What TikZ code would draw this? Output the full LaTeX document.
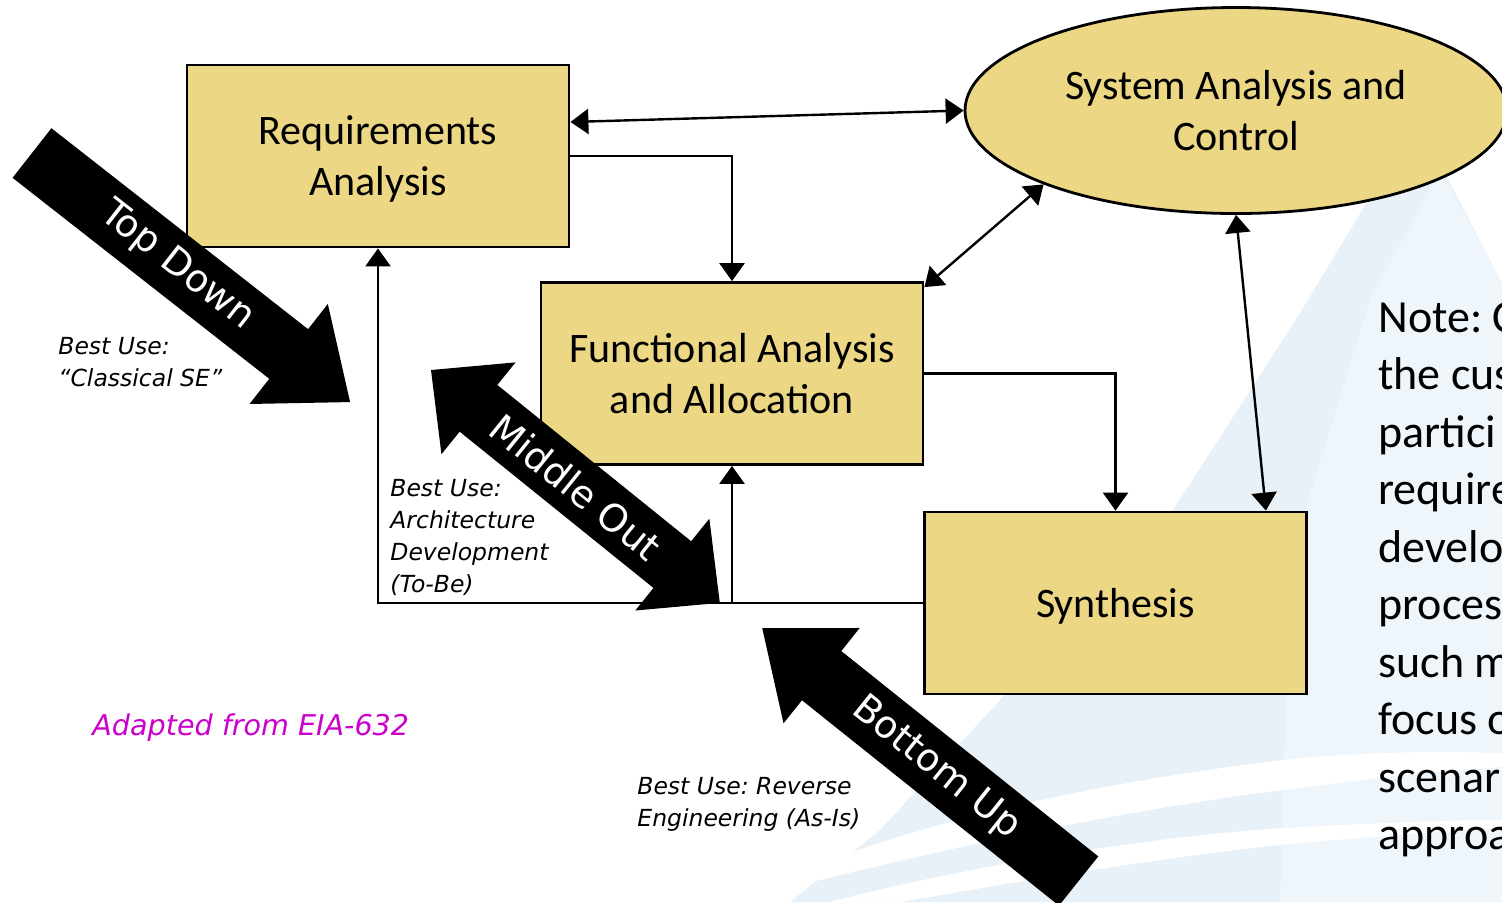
\documentclass[tikz,border=0pt]{standalone}
\usepackage{fontspec}
\setmainfont{Carlito}
\newfontfamily\verd{DejaVu Sans}
\usetikzlibrary{shapes.geometric,arrows.meta,calc}
\definecolor{boxfill}{RGB}{235,215,132}
\definecolor{wm}{RGB}{233,241,248}
\definecolor{wmlight}{RGB}{238,245,251}
\definecolor{mag}{RGB}{204,0,204}
\frenchspacing
\begin{document}
\begin{tikzpicture}[x=0.5pt,y=-0.5pt,
  box/.style={draw=black, line width=1.4pt, fill=boxfill, minimum width=191pt, minimum height=91pt, inner sep=0pt, align=center, text depth=0pt, font=\fontsize{21}{25.5}\selectfont},
  tip/.tip={Triangle[length=9pt,width=12.5pt]},
  conn/.style={line width=1.2pt, -tip},
  bconn/.style={line width=1.2pt, tip-tip},
  lbl/.style={anchor=north west, inner sep=0pt, align=left, font=\verd\itshape\fontsize{11.75}{16}\selectfont},
  fattext/.style={text=white, font=\verd\fontsize{19}{19}\selectfont, inner sep=0pt},
  note/.style={anchor=north west, inner sep=0pt, align=left, font=\fontsize{23}{28.75}\selectfont}
]
\useasboundingbox (0,0) rectangle (1502,902);
\clip (0,0) rectangle (1502,902);
% watermark
\fill[wm] (1417,119) -- (1300,313) -- (1173,510) -- (1000,700) -- (880,830) -- (790,902) -- (1502,902) -- (1502,283) -- cycle;
\fill[wmlight] (1440,170) -- (1370,300) -- (1290,560) -- (1280,902) -- (1502,902) -- (1502,283) -- cycle;
\fill[white] (800,872) .. controls (950,810) and (1150,775) .. (1300,758) .. controls (1400,750) and (1460,752) .. (1502,753)
  -- (1502,767) .. controls (1420,772) and (1360,780) .. (1300,788) .. controls (1150,805) and (960,845) .. (812,882) -- cycle;
\fill[white] (830,902) .. controls (950,870) and (1150,835) .. (1300,827) .. controls (1400,822) and (1460,820) .. (1502,820)
  -- (1502,828) .. controls (1430,832) and (1360,838) .. (1300,843) .. controls (1150,858) and (1000,885) .. (900,902) -- cycle;

% boxes
\node[box] (req) at (378,156) {Requirements\\Analysis};
\node[box] (func) at (732,373.5) {Functional Analysis\\and Allocation};
\node[box] (synth) at (1115.5,603) {Synthesis};
\node[box, ellipse, minimum width=271pt, minimum height=103pt] (sys) at (1236,110.5) {System Analysis and\\Control};

% connectors
\draw[bconn] ([yshift=17pt]req.east) -- (sys.west);
\draw[conn] (req.east) -| (func.north);
\draw[bconn] ([yshift=-3pt]func.north east) -- (sys.201);
\draw[conn] (func.east) -| (synth.north);
\draw[bconn] (sys.south) -- ([xshift=-21pt]synth.north east);
\draw[conn] (synth.west) -| (req.south);
\draw[conn] (func.south |- synth.west) -- (func.south);

% fat arrows
\begin{scope}[shift={(32,153)}, rotate=-38.06]
\fill[black] (0,-31.5) -- (326,-31.5) -- (326,-63.5) -- (404,0) -- (326,63.5) -- (326,31.5) -- (0,31.5) -- cycle;
\end{scope}
\node[fattext, rotate=-38.06] (td) at (177,266) {Top Down};

\begin{scope}[shift={(431,370)}, rotate=-38.88]
\fill[black] (0,0) -- (61,-59) -- (61,-30) -- (310,-30) -- (310,-59) -- (371,0) -- (310,59) -- (310,30) -- (61,30) -- (61,59) -- cycle;
\end{scope}
\node[fattext, rotate=-38.88] (mo) at (576,487) {Middle Out};

\begin{scope}[shift={(1078.6,881)}, rotate=141.37]
\fill[black] (0,-31.5) -- (329,-31.5) -- (329,-61) -- (405,0) -- (329,61) -- (329,31.5) -- (0,31.5) -- cycle;
\end{scope}
\node[fattext, rotate=-38.63] (bu) at (936,768) {Bottom Up};

% labels
\node[lbl] (bu1) at (58,336.5) {Best Use:\\“Classical SE”};
\node[lbl] (bu2) at (390,478.5) {Best Use:\\Architecture\\Development\\(To-Be)};
\node[lbl] (bu3) at (637,776.5) {Best Use: Reverse\\Engineering (As-Is)};
\node[anchor=base west, inner sep=0pt, text=mag, font=\verd\itshape\fontsize{14.3}{17}\selectfont] (src) at (92,735.5) {Adapted from EIA-632};

% note
\node[note] (nt) at (1378,302) {Note: C\\the cus\\partici\\require\\develo\\proces\\such m\\focus o\\scenar\\approa};
\end{tikzpicture}
\end{document}
